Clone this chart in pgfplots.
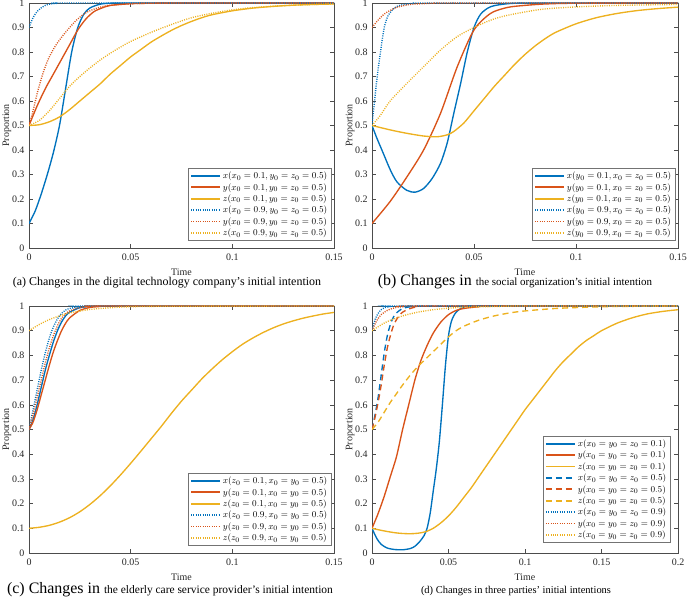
\documentclass[border=0pt]{standalone}
\usepackage[no-math]{fontspec}
\setmainfont{Liberation Serif}
\usepackage{pgfplots}
\pgfplotsset{compat=1.18}
\definecolor{mb}{HTML}{0072BD}
\definecolor{mo}{HTML}{D95319}
\definecolor{my}{HTML}{EDB120}
\pgfplotsset{
  common/.style={
    scale only axis, xmin=0, ymin=0, ymax=1,
    tick align=inside, major tick length=4bp,
    axis line style={black!70, line width=0.5bp},
    every tick/.style={black!70, line width=0.5bp},
    ytick={0,0.1,0.2,0.3,0.4,0.5,0.6,0.7,0.8,0.9,1},
    yticklabels={0,0.1,0.2,0.3,0.4,0.5,0.6,0.7,0.8,0.9,1},
    tick label style={font=\fontsize{10}{12}\selectfont, text=black!85},
    xticklabel style={yshift=-2bp},
    yticklabel style={xshift=-1bp},
    xlabel={Time}, ylabel={Proportion},
    label style={font=\fontsize{10}{12}\selectfont, text=black!85},
    legend cell align=left,
    legend style={font=\fontsize{9.3}{10.5}\selectfont, draw=black!55, line width=0.5bp,
      at={(axis description cs:1,0)}, anchor=south east, xshift=-3bp, yshift=7bp,
      inner sep=1.5bp, row sep=-0.8bp},
    legend image code/.code={\draw[##1, line width=1.7bp] (0bp,0.2bp) -- (29bp,0.2bp);},
    every axis plot/.append style={line width=1.35bp, smooth, tension=0.45},
  },
  sol/.style={solid},
  dot/.style={dash pattern=on 1bp off 1.3bp},
  das/.style={dash pattern=on 6bp off 4bp},
}
\begin{document}
\begin{tikzpicture}[x=1bp,y=1bp]
\path[use as bounding box] (0,0) rectangle (687,600);
% ---------------- (a)
\begin{axis}[common, at={(29bp,352bp)}, anchor=south west, width=305bp, height=245bp,
  xmax=0.15, xtick={0,0.05,0.1,0.15}, xticklabels={0,0.05,0.1,0.15},
  x label style={at={(axis description cs:0.5,-24/245)}, anchor=center},
  y label style={at={(axis description cs:-22/305,0.5)}, anchor=center}]
\addplot[mb,sol] coordinates {(0,0.1)(0.003,0.15)(0.006,0.22)(0.009,0.3)(0.012,0.39)(0.015,0.5)(0.018,0.65)(0.021,0.8)(0.024,0.9)(0.027,0.955)(0.03,0.98)(0.035,0.995)(0.04,0.999)(0.05,1)(0.15,1)};
\addlegendentry{$x(x_0=0.1, y_0=z_0=0.5)$}
\addplot[mo,sol] coordinates {(0,0.5)(0.004,0.58)(0.008,0.65)(0.012,0.71)(0.016,0.77)(0.02,0.83)(0.024,0.89)(0.028,0.935)(0.032,0.965)(0.036,0.98)(0.04,0.99)(0.05,0.997)(0.06,0.999)(0.08,1)(0.15,1)};
\addlegendentry{$y(x_0=0.1, y_0=z_0=0.5)$}
\addplot[my,sol] coordinates {(0,0.5)(0.005,0.503)(0.01,0.515)(0.015,0.535)(0.02,0.565)(0.025,0.6)(0.03,0.635)(0.035,0.67)(0.04,0.71)(0.045,0.745)(0.05,0.78)(0.055,0.81)(0.06,0.84)(0.065,0.865)(0.07,0.888)(0.075,0.908)(0.08,0.925)(0.085,0.94)(0.09,0.952)(0.1,0.968)(0.11,0.979)(0.12,0.986)(0.13,0.991)(0.14,0.994)(0.15,0.996)};
\addlegendentry{$z(x_0=0.1, y_0=z_0=0.5)$}
\addplot[mb,dot] coordinates {(0,0.9)(0.002,0.94)(0.004,0.965)(0.006,0.98)(0.008,0.99)(0.01,0.995)(0.014,0.999)(0.02,1)(0.15,1)};
\addlegendentry{$x(x_0=0.9, y_0=z_0=0.5)$}
\addplot[mo,dot] coordinates {(0,0.5)(0.002,0.56)(0.004,0.63)(0.006,0.69)(0.008,0.74)(0.01,0.78)(0.013,0.825)(0.016,0.86)(0.02,0.9)(0.024,0.935)(0.028,0.96)(0.032,0.975)(0.036,0.985)(0.04,0.991)(0.05,0.997)(0.06,0.999)(0.08,1)(0.15,1)};
\addlegendentry{$y(x_0=0.9, y_0=z_0=0.5)$}
\addplot[my,dot] coordinates {(0,0.5)(0.005,0.52)(0.01,0.56)(0.015,0.61)(0.02,0.66)(0.025,0.7)(0.03,0.735)(0.035,0.767)(0.04,0.795)(0.045,0.82)(0.05,0.843)(0.06,0.88)(0.07,0.912)(0.08,0.94)(0.09,0.958)(0.1,0.972)(0.11,0.981)(0.12,0.987)(0.13,0.991)(0.14,0.994)(0.15,0.996)};
\addlegendentry{$z(x_0=0.9, y_0=z_0=0.5)$}
\end{axis}
% ---------------- (b)
\begin{axis}[common, at={(372bp,352bp)}, anchor=south west, width=306bp, height=245bp,
  xmax=0.15, xtick={0,0.05,0.1,0.15}, xticklabels={0,0.05,0.1,0.15},
  x label style={at={(axis description cs:0.5,-24/245)}, anchor=center},
  y label style={at={(axis description cs:-22/306,0.5)}, anchor=center}]
\addplot[mb,sol] coordinates {(0,0.5)(0.0023,0.45)(0.0056,0.385)(0.0089,0.32)(0.0122,0.27)(0.0171,0.235)(0.0212,0.228)(0.0253,0.243)(0.0295,0.284)(0.0336,0.346)(0.0369,0.43)(0.0401,0.55)(0.0434,0.67)(0.0467,0.8)(0.05,0.9)(0.0533,0.955)(0.0582,0.985)(0.0665,0.997)(0.08,1)(0.15,1)};
\addlegendentry{$x(y_0=0.1, x_0=z_0=0.5)$}
\addplot[mo,sol] coordinates {(0,0.1)(0.0089,0.19)(0.0171,0.29)(0.0253,0.4)(0.0336,0.55)(0.0418,0.74)(0.05,0.89)(0.0582,0.958)(0.0665,0.982)(0.0747,0.99)(0.085,0.996)(0.1,0.999)(0.15,1)};
\addlegendentry{$y(y_0=0.1, x_0=z_0=0.5)$}
\addplot[my,sol] coordinates {(0,0.5)(0.0089,0.482)(0.0171,0.468)(0.0253,0.457)(0.032,0.454)(0.0369,0.462)(0.04,0.475)(0.045,0.51)(0.05,0.56)(0.055,0.61)(0.06,0.66)(0.065,0.705)(0.07,0.75)(0.075,0.79)(0.08,0.825)(0.085,0.855)(0.09,0.88)(0.1,0.915)(0.11,0.94)(0.12,0.957)(0.13,0.969)(0.14,0.977)(0.15,0.983)};
\addlegendentry{$z(y_0=0.1, x_0=z_0=0.5)$}
\addplot[mb,dot] coordinates {(0,0.5)(0.001,0.58)(0.002,0.66)(0.003,0.73)(0.004,0.79)(0.005,0.85)(0.006,0.9)(0.007,0.93)(0.008,0.95)(0.01,0.972)(0.012,0.985)(0.015,0.993)(0.02,0.998)(0.03,1)(0.15,1)};
\addlegendentry{$x(y_0=0.9, x_0=z_0=0.5)$}
\addplot[mo,dot] coordinates {(0,0.9)(0.003,0.93)(0.006,0.955)(0.009,0.97)(0.012,0.982)(0.016,0.99)(0.02,0.995)(0.03,0.999)(0.04,1)(0.15,1)};
\addlegendentry{$y(y_0=0.9, x_0=z_0=0.5)$}
\addplot[my,dot] coordinates {(0,0.5)(0.004,0.54)(0.0089,0.6)(0.0171,0.672)(0.0253,0.74)(0.0336,0.808)(0.0418,0.863)(0.05,0.9)(0.0582,0.93)(0.0665,0.95)(0.083,0.974)(0.1,0.984)(0.12,0.99)(0.15,0.994)};
\addlegendentry{$z(y_0=0.9, x_0=z_0=0.5)$}
\end{axis}
% ---------------- (c)
\begin{axis}[common, at={(29bp,47bp)}, anchor=south west, width=305bp, height=247bp,
  xmax=0.15, xtick={0,0.05,0.1,0.15}, xticklabels={0,0.05,0.1,0.15},
  x label style={at={(axis description cs:0.5,-24/247)}, anchor=center},
  y label style={at={(axis description cs:-22/305,0.5)}, anchor=center}]
\addplot[mb,sol] coordinates {(0,0.5)(0.002,0.54)(0.004,0.6)(0.006,0.67)(0.008,0.74)(0.01,0.8)(0.012,0.855)(0.014,0.9)(0.016,0.935)(0.018,0.96)(0.02,0.975)(0.025,0.993)(0.03,0.998)(0.035,1)(0.15,1)};
\addlegendentry{$x(z_0=0.1, x_0=y_0=0.5)$}
\addplot[mo,sol] coordinates {(0,0.5)(0.002,0.53)(0.004,0.58)(0.006,0.64)(0.008,0.7)(0.01,0.76)(0.012,0.815)(0.014,0.86)(0.016,0.9)(0.018,0.93)(0.02,0.952)(0.025,0.982)(0.03,0.994)(0.035,0.998)(0.04,1)(0.15,1)};
\addlegendentry{$y(z_0=0.1, x_0=y_0=0.5)$}
\addplot[my,sol] coordinates {(0,0.1)(0.005,0.104)(0.01,0.112)(0.015,0.125)(0.02,0.143)(0.025,0.167)(0.03,0.197)(0.035,0.232)(0.04,0.272)(0.045,0.316)(0.05,0.363)(0.055,0.412)(0.06,0.462)(0.065,0.512)(0.07,0.565)(0.075,0.615)(0.08,0.66)(0.085,0.705)(0.09,0.745)(0.095,0.782)(0.1,0.815)(0.105,0.845)(0.11,0.87)(0.115,0.892)(0.12,0.911)(0.125,0.927)(0.13,0.94)(0.135,0.951)(0.14,0.96)(0.145,0.968)(0.15,0.974)};
\addlegendentry{$z(z_0=0.1, x_0=y_0=0.5)$}
\addplot[mb,dot] coordinates {(0,0.5)(0.002,0.58)(0.004,0.66)(0.006,0.74)(0.008,0.81)(0.01,0.87)(0.012,0.915)(0.014,0.948)(0.016,0.97)(0.018,0.983)(0.02,0.99)(0.025,0.997)(0.03,1)(0.15,1)};
\addlegendentry{$x(z_0=0.9, x_0=y_0=0.5)$}
\addplot[mo,dot] coordinates {(0,0.5)(0.002,0.56)(0.004,0.63)(0.006,0.7)(0.008,0.77)(0.01,0.83)(0.012,0.88)(0.014,0.92)(0.016,0.95)(0.018,0.968)(0.02,0.98)(0.025,0.994)(0.03,0.998)(0.035,1)(0.15,1)};
\addlegendentry{$y(z_0=0.9, x_0=y_0=0.5)$}
\addplot[my,dot] coordinates {(0,0.9)(0.005,0.925)(0.01,0.945)(0.015,0.96)(0.02,0.972)(0.03,0.986)(0.04,0.993)(0.05,0.997)(0.07,0.999)(0.15,1)};
\addlegendentry{$z(z_0=0.9, x_0=y_0=0.5)$}
\end{axis}
% ---------------- (d)
\begin{axis}[common, at={(372bp,47bp)}, anchor=south west, width=306bp, height=247bp,
  xmax=0.2, xtick={0,0.05,0.1,0.15,0.2}, xticklabels={0,0.05,0.1,0.15,0.2},
  x label style={at={(axis description cs:0.5,-24/247)}, anchor=center},
  y label style={at={(axis description cs:-22/306,0.5)}, anchor=center},
  legend style={yshift=3bp, xshift=-5bp}]
\addplot[mb,sol] coordinates {(0,0.1)(0.003,0.06)(0.006,0.035)(0.01,0.02)(0.015,0.014)(0.02,0.013)(0.025,0.018)(0.028,0.027)(0.031,0.045)(0.034,0.07)(0.036,0.1)(0.038,0.16)(0.04,0.25)(0.042,0.34)(0.044,0.45)(0.046,0.6)(0.048,0.76)(0.05,0.88)(0.052,0.94)(0.055,0.975)(0.06,0.995)(0.07,1)(0.2,1)};
\addlegendentry{$x(x_0=y_0=z_0=0.1)$}
\addplot[mo,sol] coordinates {(0,0.1)(0.004,0.16)(0.008,0.23)(0.012,0.31)(0.016,0.39)(0.02,0.5)(0.024,0.6)(0.028,0.7)(0.032,0.78)(0.036,0.84)(0.04,0.89)(0.045,0.935)(0.05,0.965)(0.055,0.982)(0.06,0.99)(0.07,0.997)(0.08,1)(0.2,1)};
\addlegendentry{$y(x_0=y_0=z_0=0.1)$}
\addplot[my,sol] coordinates {(0,0.1)(0.005,0.093)(0.01,0.087)(0.015,0.082)(0.02,0.079)(0.025,0.078)(0.03,0.08)(0.035,0.086)(0.04,0.1)(0.045,0.122)(0.05,0.15)(0.055,0.185)(0.06,0.225)(0.065,0.265)(0.07,0.31)(0.075,0.355)(0.08,0.4)(0.085,0.445)(0.09,0.49)(0.095,0.535)(0.1,0.58)(0.105,0.62)(0.11,0.66)(0.115,0.7)(0.12,0.74)(0.125,0.775)(0.13,0.805)(0.135,0.835)(0.14,0.86)(0.145,0.88)(0.15,0.9)(0.16,0.93)(0.17,0.952)(0.18,0.968)(0.19,0.978)(0.2,0.985)};
\addlegendentry{$z(x_0=y_0=z_0=0.1)$}
\addplot[mb,das] coordinates {(0,0.5)(0.002,0.56)(0.004,0.63)(0.006,0.72)(0.008,0.81)(0.01,0.88)(0.012,0.925)(0.014,0.955)(0.016,0.972)(0.02,0.99)(0.025,0.997)(0.03,1)(0.2,1)};
\addlegendentry{$x(x_0=y_0=z_0=0.5)$}
\addplot[mo,das] coordinates {(0,0.5)(0.002,0.55)(0.004,0.61)(0.006,0.68)(0.008,0.76)(0.01,0.83)(0.012,0.88)(0.014,0.92)(0.016,0.945)(0.018,0.962)(0.02,0.975)(0.025,0.99)(0.03,0.997)(0.04,1)(0.2,1)};
\addlegendentry{$y(x_0=y_0=z_0=0.5)$}
\addplot[my,das] coordinates {(0,0.5)(0.004,0.53)(0.008,0.57)(0.012,0.61)(0.016,0.645)(0.02,0.68)(0.025,0.72)(0.03,0.755)(0.035,0.785)(0.04,0.815)(0.045,0.845)(0.05,0.875)(0.055,0.9)(0.06,0.918)(0.07,0.943)(0.08,0.96)(0.09,0.972)(0.1,0.98)(0.12,0.99)(0.14,0.995)(0.16,0.998)(0.2,1)};
\addlegendentry{$z(x_0=y_0=z_0=0.5)$}
\addplot[mb,dot] coordinates {(0,0.9)(0.002,0.945)(0.004,0.97)(0.006,0.985)(0.008,0.993)(0.012,0.998)(0.02,1)(0.2,1)};
\addlegendentry{$x(x_0=y_0=z_0=0.9)$}
\addplot[mo,dot] coordinates {(0,0.9)(0.003,0.94)(0.006,0.965)(0.01,0.982)(0.015,0.993)(0.02,0.997)(0.03,1)(0.2,1)};
\addlegendentry{$y(x_0=y_0=z_0=0.9)$}
\addplot[my,dot] coordinates {(0,0.9)(0.005,0.92)(0.01,0.937)(0.02,0.96)(0.03,0.975)(0.04,0.985)(0.05,0.991)(0.06,0.995)(0.08,0.998)(0.1,1)(0.2,1)};
\addlegendentry{$z(x_0=y_0=z_0=0.9)$}
\end{axis}
% ---------------- captions
\node[anchor=base, inner sep=0] at (167,314) {\fontsize{12}{14}\selectfont (a) Changes in the digital technology company’s initial intention};
\node[anchor=base, inner sep=0] at (515,314) {\fontsize{16}{18}\selectfont (b) Changes in \fontsize{11}{13}\selectfont the social organization’s initial intention};
\node[anchor=base, inner sep=0] at (170,6) {\fontsize{16}{18}\selectfont (c) Changes in \fontsize{11.5}{13}\selectfont the elderly care service provider’s initial intention};
\node[anchor=base, inner sep=0] at (516,6) {\fontsize{10.5}{12}\selectfont (d) Changes in three parties’ initial intentions};
\end{tikzpicture}
\end{document}
